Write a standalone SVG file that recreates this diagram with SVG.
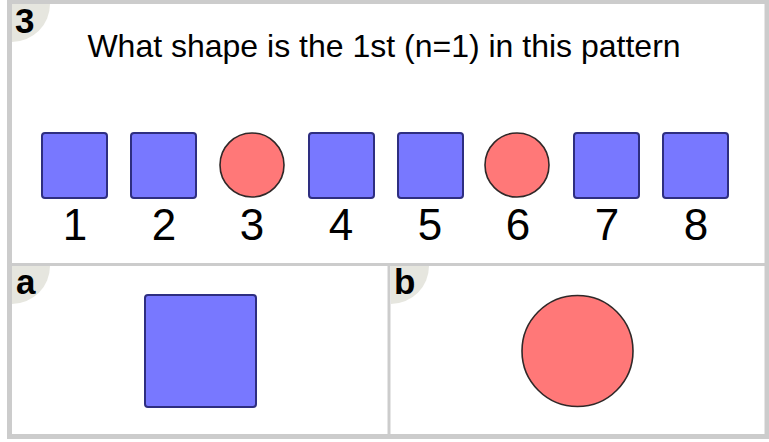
<svg xmlns="http://www.w3.org/2000/svg" width="769" height="442" viewBox="0 0 769 442">
<style>
.frame{fill:none;stroke:#cccccc}
.badge{fill:#e6e6df}
.blab{font-family:"Liberation Sans",Arial,sans-serif;font-weight:bold;font-size:35px;fill:#000}
.title{font-family:"Liberation Sans",Arial,sans-serif;font-size:32px;fill:#000}
.num{font-family:"Liberation Sans",Arial,sans-serif;font-size:44px;fill:#000;text-anchor:middle}
.sq{fill:#7878ff;stroke:#2e2e80;stroke-width:2}
.ci{fill:#ff7878;stroke:#302828;stroke-width:1.6}
</style>
<rect x="0" y="0" width="769" height="442" fill="#ffffff"/>
<g id="question">
<path class="badge" d="M12 4 H50 A38 38 0 0 1 12 42 Z"/>
<text class="blab" x="15" y="33">3</text>
<text class="title" x="384" y="57" text-anchor="middle">What shape is the 1st (n=1) in this pattern</text>
</g>
<g id="pattern">
<rect class="sq" x="42" y="133" width="65" height="65" rx="3"/>
<rect class="sq" x="131" y="133" width="65" height="65" rx="3"/>
<circle class="ci" cx="252" cy="165" r="32"/>
<rect class="sq" x="309" y="133" width="65" height="65" rx="3"/>
<rect class="sq" x="398" y="133" width="65" height="65" rx="3"/>
<circle class="ci" cx="517" cy="165" r="32"/>
<rect class="sq" x="574" y="133" width="65" height="65" rx="3"/>
<rect class="sq" x="663" y="133" width="65" height="65" rx="3"/>
<text class="num" x="75" y="240">1</text>
<text class="num" x="164" y="240">2</text>
<text class="num" x="252" y="240">3</text>
<text class="num" x="341" y="240">4</text>
<text class="num" x="430" y="240">5</text>
<text class="num" x="518" y="240">6</text>
<text class="num" x="607" y="240">7</text>
<text class="num" x="696" y="240">8</text>
</g>
<g id="option-a">
<path class="badge" d="M12 266 H50 A38 38 0 0 1 12 304 Z"/>
<text class="blab" x="16" y="294">a</text>
<rect class="sq" x="145" y="295" width="111" height="112" rx="3"/>
</g>
<g id="option-b">
<path class="badge" d="M391 266 H429 A38 38 0 0 1 391 304 Z"/>
<text class="blab" x="394" y="294">b</text>
<circle class="ci" cx="577.5" cy="351" r="55.5"/>
</g>
<g id="frame">
<rect class="frame" x="9.5" y="1.5" width="757.5" height="435" stroke-width="5"/>
<line class="frame" x1="9.5" y1="264.5" x2="767" y2="264.5" stroke-width="3"/>
<line class="frame" x1="389" y1="264.5" x2="389" y2="436" stroke-width="3"/>
</g>
</svg>
